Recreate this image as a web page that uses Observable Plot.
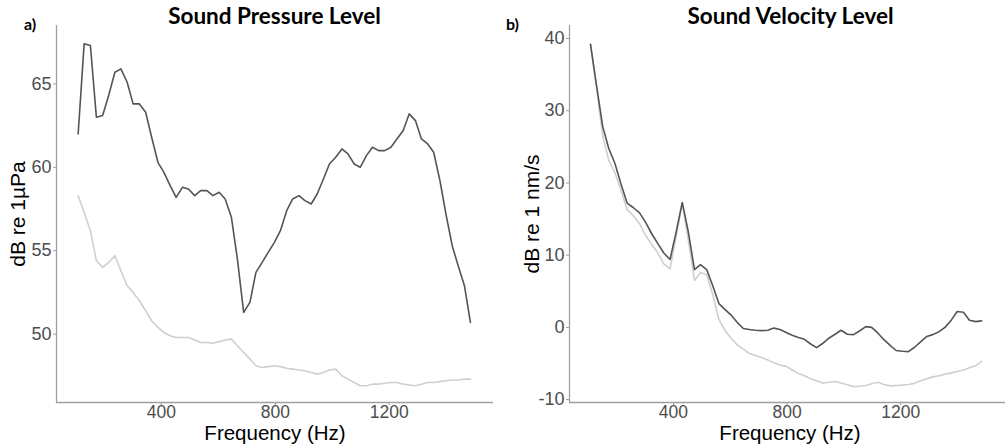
<!DOCTYPE html>
<html>
<head>
<meta charset="utf-8">
<script src="https://cdn.jsdelivr.net/npm/d3@7"></script>
<script src="https://cdn.jsdelivr.net/npm/@observablehq/plot@0.6"></script>
<style>
  html, body { margin: 0; padding: 0; background: #fff; }
  #wrap { position: relative; width: 1006px; height: 446px; overflow: hidden; font-family: "Liberation Sans", Arial, sans-serif; }
  .panel { position: absolute; top: 0; }
  .t { position: absolute; white-space: nowrap; }
  .title { font-family: Lato, "Open Sans", sans-serif; font-weight: 700; font-size: 22.5px; color: #000; transform: translateX(-50%); line-height: 1; }
  .tag { font-family: Lato, "Open Sans", sans-serif; font-weight: 700; font-size: 16px; color: #000; line-height: 1; }
  .xlab { font-size: 20.5px; color: #000; transform: translateX(-50%); line-height: 0.6; }
  .ylab { font-size: 21px; color: #000; transform: translate(-50%, -50%) rotate(-90deg); line-height: 1; }
</style>
</head>
<body>
<div id="wrap"></div>
<script>
// Frequency bins (Hz)
const freq = [108, 129, 151, 172, 194, 215, 237, 258, 280, 301, 323, 345, 366, 388, 409, 431, 452, 474, 495, 517,
  538, 560, 581, 603, 624, 646, 667, 689, 711, 732, 754, 775, 797, 818, 840, 861, 883, 904, 926, 947,
  969, 990, 1012, 1034, 1055, 1077, 1098, 1120, 1141, 1163, 1184, 1206, 1227, 1249, 1270, 1292, 1313, 1335, 1356, 1378,
  1399, 1421, 1442, 1464, 1485];

// Sound pressure level, dB re 1 µPa
const splUpper = [62.0, 67.4, 67.3, 63.0, 63.1, 64.3, 65.7, 65.9, 65.1, 63.8, 63.8, 63.3, 61.8, 60.3, 59.7, 58.9, 58.2, 58.8, 58.7, 58.3,
  58.6, 58.6, 58.3, 58.5, 58.1, 57.0, 54.5, 51.3, 51.9, 53.7, 54.3, 54.9, 55.5, 56.2, 57.4, 58.1, 58.3, 58.0, 57.8, 58.4,
  59.3, 60.2, 60.6, 61.1, 60.8, 60.2, 60.0, 60.7, 61.2, 61.0, 61.0, 61.2, 61.7, 62.2, 63.2, 62.8, 61.7, 61.4, 60.9, 59.2,
  57.2, 55.3, 54.1, 52.9, 50.7];
const splLower = [58.3, 57.3, 56.2, 54.4, 54.0, 54.3, 54.7, 53.8, 52.9, 52.5, 52.0, 51.4, 50.8, 50.4, 50.1, 49.9, 49.8, 49.8, 49.8, 49.65,
  49.5, 49.5, 49.45, 49.55, 49.65, 49.7, 49.3, 48.9, 48.5, 48.1, 48.0, 48.05, 48.1, 48.05, 47.95, 47.9, 47.85, 47.8, 47.7, 47.6,
  47.7, 47.85, 47.9, 47.5, 47.3, 47.1, 46.9, 46.9, 47.0, 47.0, 47.05, 47.1, 47.1, 47.0, 46.95, 46.9, 47.0, 47.1, 47.1, 47.15,
  47.2, 47.25, 47.25, 47.3, 47.3];

// Sound velocity level, dB re 1 nm/s
const svlUpper = [39.2, 33.5, 27.8, 24.8, 22.7, 19.9, 17.2, 16.6, 15.9, 14.6, 13.0, 11.6, 10.3, 9.4, 13.1, 17.3, 13.3, 8.0, 8.7, 8.0,
  5.8, 3.3, 2.5, 1.7, 0.7, -0.15, -0.3, -0.4, -0.45, -0.4, -0.1, -0.3, -0.7, -1.1, -1.4, -1.65, -2.3, -2.8, -2.2, -1.5,
  -0.95, -0.4, -0.95, -1.0, -0.5, 0.1, 0.0, -0.8, -1.7, -2.5, -3.2, -3.3, -3.35, -2.75, -2.0, -1.25, -1.0, -0.6, 0.0, 1.0,
  2.2, 2.1, 1.0, 0.8, 0.9];
const svlLower = [39.2, 33.3, 26.5, 23.2, 21.4, 19.0, 16.3, 15.5, 14.4, 12.8, 11.5, 10.3, 8.8, 8.1, 12.5, 17.2, 12.2, 6.5, 7.6, 7.3,
  4.6, 1.1, -0.4, -1.5, -2.4, -3.0, -3.6, -3.9, -4.2, -4.5, -4.9, -5.2, -5.4, -5.9, -6.4, -6.7, -7.1, -7.4, -7.7, -7.6,
  -7.5, -7.7, -7.95, -8.2, -8.15, -8.05, -7.8, -7.6, -7.9, -8.1, -8.05, -8.0, -7.9, -7.75, -7.4, -7.1, -6.85, -6.7, -6.5, -6.3,
  -6.1, -5.9, -5.6, -5.3, -4.7];

const xTicks = [400, 800, 1200];
const splTicks = [50, 55, 60, 65];
const svlTicks = [-10, 0, 10, 20, 30, 40];

const darkColor = "#555555";
const lightColor = "#cfcfcf";
const axisColor = "#a0a0a0";
const tickText = "#4d4d4d";

function rows(values) {
  return freq.map((f, i) => ({f, v: values[i]}));
}

// plain numerals with an ASCII hyphen, no thousands separator
const plain = (d) => String(d);

function panel({width, marginLeft, marginRight, xDomain, yDomain, yTicks, upper, lower}) {
  return Plot.plot({
    width,
    height: 446,
    marginTop: 25,
    marginBottom: 44,
    marginLeft,
    marginRight,
    style: {fontFamily: "'Liberation Sans', Arial, sans-serif", background: "transparent"},
    x: {domain: xDomain},
    y: {domain: yDomain},
    marks: [
      Plot.ruleX([xDomain[0]], {stroke: axisColor, strokeWidth: 1.3}),
      Plot.ruleY([yDomain[0]], {stroke: axisColor, strokeWidth: 1.3}),
      Plot.axisX({ticks: xTicks, tickFormat: plain, tickSize: 3, tickPadding: 0.5, stroke: axisColor, fill: tickText, fontSize: 17.5, label: null}),
      Plot.axisY({ticks: yTicks, tickFormat: plain, tickSize: 3, tickPadding: 2, stroke: axisColor, fill: tickText, fontSize: 18, label: null}),
      Plot.line(rows(lower), {x: "f", y: "v", stroke: lightColor, strokeWidth: 1.6}),
      Plot.line(rows(upper), {x: "f", y: "v", stroke: darkColor, strokeWidth: 1.6})
    ]
  });
}

const wrap = document.getElementById("wrap");

const left = panel({
  width: 500, marginLeft: 56, marginRight: 7,
  xDomain: [32, 1566], yDomain: [45.9, 68.5], yTicks: splTicks,
  upper: splUpper, lower: splLower
});
left.classList.add("panel");
left.style.left = "0px";
wrap.appendChild(left);

const right = panel({
  width: 506, marginLeft: 69, marginRight: 1,
  xDomain: [34, 1569], yDomain: [-10.4, 41.8], yTicks: svlTicks,
  upper: svlUpper, lower: svlLower
});
right.classList.add("panel");
right.style.left = "500px";
wrap.appendChild(right);

function addText(cls, text, x, y) {
  const d = document.createElement("div");
  d.className = "t " + cls;
  d.textContent = text;
  d.style.left = x + "px";
  d.style.top = y + "px";
  wrap.appendChild(d);
}

addText("title", "Sound Pressure Level", 274.5, 5);
addText("title", "Sound Velocity Level", 790.5, 5);
addText("tag", "a)", 24, 16);
addText("tag", "b)", 506, 16);
addText("xlab", "Frequency (Hz)", 275, 427);
addText("xlab", "Frequency (Hz)", 790, 427);
addText("ylab", "dB re 1µPa", 17, 214);
addText("ylab", "dB re 1 nm/s", 531, 214);
</script>
</body>
</html>
